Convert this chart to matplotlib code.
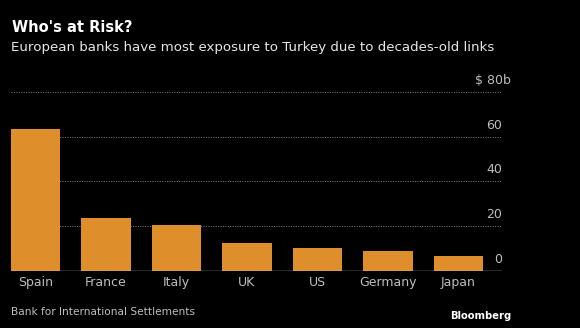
import matplotlib.pyplot as plt

# Dados
countries = ['Spain', 'France', 'Italy', 'UK', 'US', 'Germany', 'Japan']
exposure = [63.6, 23.7, 20.6, 12.6, 10.0, 8.6, 6.8]
yticks = [0, 20, 40, 60, 80]

bg = 'black'
bar_color = '#DE8E2A'
text_color = '#E6E6E6'
tick_color = '#BDBDBD'

fig = plt.figure(figsize=(5.8, 3.28), dpi=100, facecolor=bg)
ax = fig.add_axes([11 / 580, 57.3 / 328, 491 / 580, 178.7 / 328], facecolor=bg)

x = range(len(countries))
ax.bar(x, exposure, width=0.7, color=bar_color, zorder=3)

ax.set_xlim(-0.35, 6.62)
ax.set_ylim(0, 80)

# Grade pontilhada
for v in yticks[1:]:
    ax.axhline(v, color='#808080', linewidth=0.7, linestyle=(0, (1, 1.5)), zorder=1)
ax.axhline(0, color='#CCCCCC', linewidth=1.0, zorder=4)

# Rótulos do eixo y à direita, acima das linhas
for v in yticks:
    label = '$ 80b' if v == 80 else str(v)
    xpos = 1.018 if v == 80 else 1.0
    ax.text(xpos, v + 2.2, label, transform=ax.get_yaxis_transform(),
            ha='right', va='bottom', fontsize=9, color=tick_color)

ax.set_xticks(list(x))
ax.set_xticklabels(countries, fontsize=9, color=tick_color)
ax.tick_params(axis='x', length=0, pad=4)
ax.set_yticks([])
for s in ax.spines.values():
    s.set_visible(False)

# Títulos
fig.text(12 / 580, 1 - 28 / 328, "Who's at Risk?", fontsize=10.5, fontweight='bold',
         color='white', ha='left', va='center')
fig.text(11 / 580, 1 - 48 / 328,
         'European banks have most exposure to Turkey due to decades-old links',
         fontsize=9.6, color=text_color, ha='left', va='center')

# Fonte
fig.text(11 / 580, 1 - 311.7 / 328, 'Bank for International Settlements',
         fontsize=7.6, color=tick_color, ha='left', va='center')
fig.text(511 / 580, 1 - 315.7 / 328, 'Bloomberg', fontsize=7.2, fontweight='bold',
         color='white', ha='right', va='center')

fig.savefig('out.png', dpi=100, facecolor=bg)
